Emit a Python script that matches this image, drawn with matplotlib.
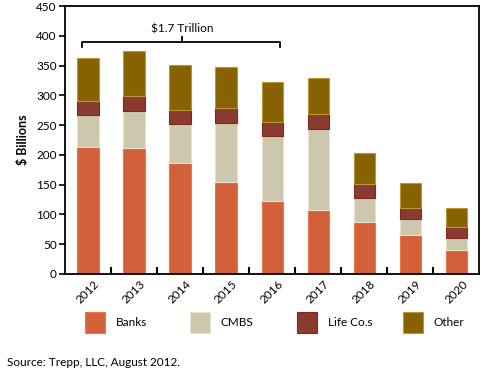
import matplotlib.pyplot as plt
from matplotlib.patches import Rectangle
import numpy as np

plt.rcParams['font.family'] = ['Lato', 'DejaVu Sans']

# --- Data ($ billions, stacked) ---
years = ['2012', '2013', '2014', '2015', '2016', '2017', '2018', '2019', '2020']
banks = [214, 212, 186, 154, 122, 107, 88, 65, 41]
cmbs = [53, 61, 66, 99, 109, 136, 40, 27, 20]
life_cos = [24, 26, 24, 25, 25, 25, 23, 19, 18]
other = [72, 75, 75, 69, 66, 61, 52, 41, 31]

series_names = ['Banks', 'CMBS', 'Life Co.s', 'Other']
face_colors = ['#D2603A', '#CDC7AE', '#8B3A2F', '#866300']
edge_colors = ['#E8764E', '#E6E2CC', '#7A2A22', '#B8963A']

fig = plt.figure(figsize=(4.85, 3.81), dpi=100)
ax = fig.add_axes([0.134, 0.281, 0.854, 0.703])

x = np.arange(len(years))
bottom = np.zeros(len(years))
for vals, fc, ec in zip([banks, cmbs, life_cos, other], face_colors, edge_colors):
    ax.bar(x, vals, width=0.46, bottom=bottom, color=fc, edgecolor=ec, linewidth=0.8)
    bottom += np.array(vals)

ax.set_xlim(-0.5, len(years) - 0.5)
ax.set_ylim(0, 450)
ax.set_yticks(range(0, 451, 50))
ax.tick_params(axis='y', direction='out', length=4, width=1.2, labelsize=8.5, pad=2)

# category labels at centers, tick marks between categories
ax.set_xticks(x)
ax.set_xticklabels(years, rotation=45, fontsize=8.5)
ax.tick_params(axis='x', length=0, pad=3)
ax.set_xticks(x[:-1] + 0.5, minor=True)
ax.tick_params(axis='x', which='minor', direction='in', length=5, width=1.5)

for s in ax.spines.values():
    s.set_linewidth(1.3)
ax.set_ylabel('$ Billions', fontsize=9, fontweight='bold', labelpad=5)

# bracket over 2012-2016
bx0, bx1, by = -0.13, 4.17, 390
ax.plot([bx0, bx0, bx1, bx1], [by - 8, by, by, by - 8], color='black', lw=1.3, clip_on=False)
ax.plot([2.04, 2.04], [by, by + 8], color='black', lw=1.3)
ax.text(2.04, 412, '$1.7 Trillion', ha='center', va='center', fontsize=8.5)

# legend below the axes
leg_x = [85, 190, 297, 403]
for px, name, fc, ec in zip(leg_x, series_names, face_colors, edge_colors):
    fig.patches.append(Rectangle((px / 485, 1 - 333 / 381), 20 / 485, 21 / 381,
                                 transform=fig.transFigure, facecolor=fc,
                                 edgecolor=ec, linewidth=0.8))
    fig.text((px + 31) / 485, 1 - 322 / 381, name, ha='left', va='center', fontsize=8.5)

fig.text(7 / 485, 1 - 363 / 381, 'Source: Trepp, LLC, August 2012.', ha='left', va='center', fontsize=8.5)

fig.savefig('out.png', dpi=100)
